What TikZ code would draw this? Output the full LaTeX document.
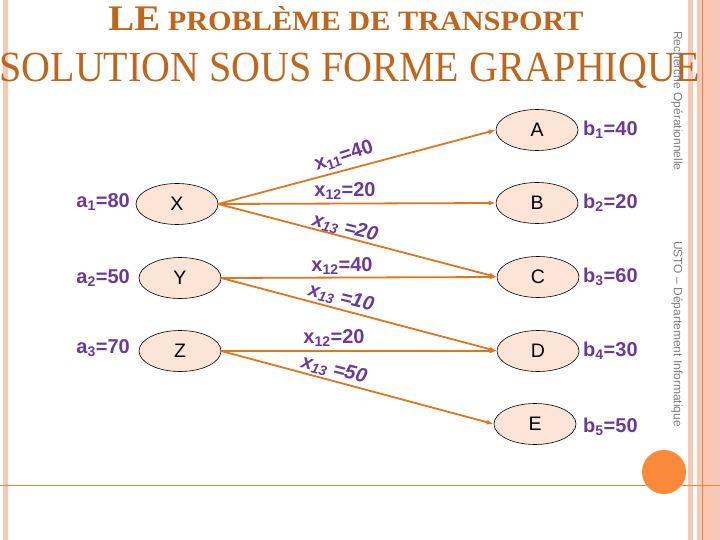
\documentclass[tikz,border=0pt]{standalone}
\usepackage{fontspec}
\setmainfont{Liberation Serif}
\newfontfamily\arialf{Liberation Sans}
\usetikzlibrary{shapes.geometric,arrows.meta}
\definecolor{pinkstrip}{HTML}{F9C8B4}
\definecolor{orln}{HTML}{E8873A}
\definecolor{titlec}{HTML}{C0661C}
\definecolor{purp}{HTML}{6B3A98}
\definecolor{nodefill}{HTML}{FCE4D6}
\definecolor{arr}{HTML}{E0761E}
\definecolor{dotc}{HTML}{FA8A3A}
\definecolor{sidegray}{HTML}{7F7F7F}
\begin{document}
\begin{tikzpicture}[x=1pt,y=-1pt,
 ell/.style={ellipse,draw=black,line width=0.6pt,fill=nodefill,minimum width=82pt,minimum height=41pt,inner sep=0pt,font=\arialf\fontsize{19.5}{22}\selectfont},
 lab/.style={text=purp,font=\arialf\bfseries\fontsize{20}{22}\selectfont,inner sep=0pt},
 ilab/.style={lab,font=\arialf\bfseries\itshape\fontsize{20}{22}\selectfont},
 flow/.style={draw=arr,line width=1.8pt,-{Latex[length=7pt,width=5pt]}},
 side/.style={text=sidegray,font=\arialf\fontsize{12}{13}\selectfont,rotate=-90,inner sep=0pt}]
\useasboundingbox (0,0) rectangle (720,540);
\fill[white] (0,0) rectangle (720,540);
% decoration
\fill[pinkstrip] (3,0) rectangle (8,540);
\fill[pinkstrip] (688,0) rectangle (692.5,540);
\fill[pinkstrip] (697,0) rectangle (720,540);
\draw[orln,line width=1pt] (0,485) -- (720,485);
\draw[orln,line width=1pt] (702.5,0) -- (702.5,540);
\fill[dotc] (664,472) circle (22);
% title
\node[text=titlec,inner sep=0pt,anchor=base] (t1) at (346,31)
  {\scalebox{1.08}[1]{\bfseries\fontsize{36}{40}\selectfont LE\fontsize{28}{30}\selectfont{} PROBLÈME DE TRANSPORT}};
\node[text=titlec,inner sep=0pt,anchor=base] (t2) at (350,82)
  {\scalebox{0.93}[1]{\fontsize{43}{46}\selectfont SOLUTION SOUS FORME GRAPHIQUE}};
% side texts
\node[side] (s1) at (677,101) {Recherche Opérationnelle};
\node[side] (s2) at (677,334) {USTO – Département Informatique};
% nodes
\node[ell] (X) at (177,204) {X};
\node[ell] (Y) at (180,278) {Y};
\node[ell] (Z) at (180,351) {Z};
\node[ell] (A) at (537,130) {A};
\node[ell] (B) at (537,203) {B};
\node[ell] (C) at (538,277) {C};
\node[ell] (D) at (538,351) {D};
\node[ell] (E) at (535,424) {E};
% supplies / demands
\node[lab,anchor=east] (a1) at (130,202) {a\textsubscript{1}=80};
\node[lab,anchor=east] (a2) at (130,278) {a\textsubscript{2}=50};
\node[lab,anchor=east] (a3) at (130,348) {a\textsubscript{3}=70};
\node[lab,anchor=west] (b1) at (583,130) {b\textsubscript{1}=40};
\node[lab,anchor=west] (b2) at (583,203) {b\textsubscript{2}=20};
\node[lab,anchor=west] (b3) at (583,277) {b\textsubscript{3}=60};
\node[lab,anchor=west] (b4) at (583,351) {b\textsubscript{4}=30};
\node[lab,anchor=west] (b5) at (583,427) {b\textsubscript{5}=50};
% flows
\draw[flow] (X.east) -- (A.west);
\draw[flow] (X.east) -- (B.west);
\draw[flow] (X.east) -- (C.west);
\draw[flow] (Y.east) -- (C.west);
\draw[flow] (Y.east) -- (D.west);
\draw[flow] (Z.east) -- (D.west);
\draw[flow] (Z.east) -- (E.west);
% flow labels
\node[lab,rotate=18] (f1) at (344,156) {x\textsubscript{11}=40};
\node[lab] (f2) at (345,191) {x\textsubscript{12}=20};
\node[ilab,rotate=-14] (f3) at (345,228) {x\textsubscript{13} =20};
\node[lab] (f4) at (342,266) {x\textsubscript{12}=40};
\node[ilab,rotate=-14] (f5) at (341,298) {x\textsubscript{13} =10};
\node[lab] (f6) at (334,338) {x\textsubscript{12}=20};
\node[ilab,rotate=-14] (f7) at (334,370) {x\textsubscript{13} =50};
\end{tikzpicture}
\end{document}
